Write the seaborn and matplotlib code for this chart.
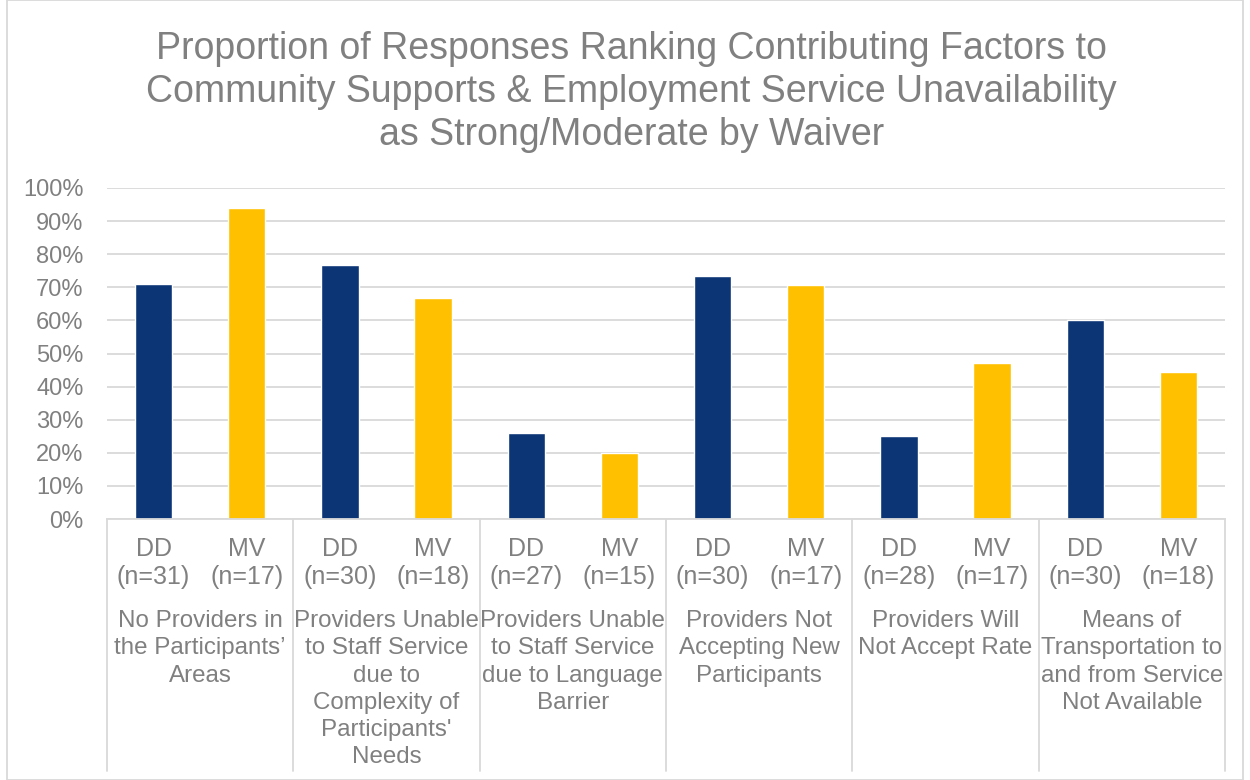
import pandas as pd
import seaborn as sns
import matplotlib.pyplot as plt
from matplotlib.patches import Rectangle
from matplotlib.ticker import PercentFormatter

# 資料
factors = [
    "No Providers in\nthe Participants’\nAreas",
    "Providers Unable\nto Staff Service\ndue to\nComplexity of\nParticipants'\nNeeds",
    "Providers Unable\nto Staff Service\ndue to Language\nBarrier",
    "Providers Not\nAccepting New\nParticipants",
    "Providers Will\nNot Accept Rate",
    "Means of\nTransportation to\nand from Service\nNot Available",
]
dd_n = [31, 30, 27, 30, 28, 30]
mv_n = [17, 18, 15, 17, 17, 18]
dd_values = [0.710, 0.767, 0.259, 0.733, 0.250, 0.600]
mv_values = [0.941, 0.667, 0.200, 0.706, 0.471, 0.444]

TEXT = '#808080'
GRID = '#d9d9d9'
colors = {'DD': '#0c3576', 'MV': '#ffc000'}

# 組成長表格，每個柱子一個位置
rows = []
tick_labels = []
for i in range(len(factors)):
    rows.append({'slot': 2 * i, 'waiver': 'DD', 'value': dd_values[i]})
    rows.append({'slot': 2 * i + 1, 'waiver': 'MV', 'value': mv_values[i]})
    tick_labels.append(f"DD\n(n={dd_n[i]})")
    tick_labels.append(f"MV\n(n={mv_n[i]})")
df = pd.DataFrame(rows)

sns.set_style('white')
plt.rcParams['font.family'] = ['Liberation Sans', 'DejaVu Sans']

fig = plt.figure(figsize=(12.5, 7.8), dpi=100)
ax = fig.add_axes([107 / 1250, 1 - 519 / 780, (1225 - 107) / 1250, (519 - 188) / 780])

sns.barplot(data=df, x='slot', y='value', hue='waiver', palette=colors,
            dodge=False, width=0.4, legend=False, ax=ax, saturation=1)

ax.set_xlim(-0.5, 11.5)
ax.set_ylim(0, 1)
ax.set_yticks([i / 10 for i in range(11)])
ax.yaxis.set_major_formatter(PercentFormatter(1.0, decimals=0))
ax.yaxis.grid(True, color=GRID, linewidth=1.3)
ax.set_axisbelow(True)
for s in ['top', 'right', 'left']:
    ax.spines[s].set_visible(False)
ax.spines['bottom'].set_color(GRID)
ax.spines['bottom'].set_linewidth(1.3)

ax.set_xticks(range(12))
ax.set_xticklabels(tick_labels, linespacing=1.22)
ax.tick_params(axis='x', length=0, pad=13, labelsize=18, labelcolor=TEXT)
ax.tick_params(axis='y', length=0, pad=17, labelsize=17, labelcolor=TEXT)
ax.set_xlabel('')
ax.set_ylabel('')

# 分組標籤與分隔線
trans = ax.get_xaxis_transform()
for i, label in enumerate(factors):
    ax.text(2 * i + 0.5, -0.276, label, transform=trans, ha='center', va='top',
            fontsize=17.4, color=TEXT, linespacing=1.3)
for b in range(len(factors) + 1):
    ax.plot([2 * b - 0.5, 2 * b - 0.5], [0, -0.76], transform=trans,
            color=GRID, linewidth=1.3, clip_on=False)

fig.text(0.505, 1 - 92 / 780,
         "Proportion of Responses Ranking Contributing Factors to\n"
         "Community Supports & Employment Service Unavailability\n"
         "as Strong/Moderate by Waiver",
         ha='center', va='center', fontsize=27, color=TEXT, linespacing=1.26)

# 外框
fig.patches.append(Rectangle((7 / 1250, 0), 1 - 14 / 1250, 1, transform=fig.transFigure,
                             fill=False, edgecolor=GRID, linewidth=1.3))

fig.savefig('out.png', dpi=100)
